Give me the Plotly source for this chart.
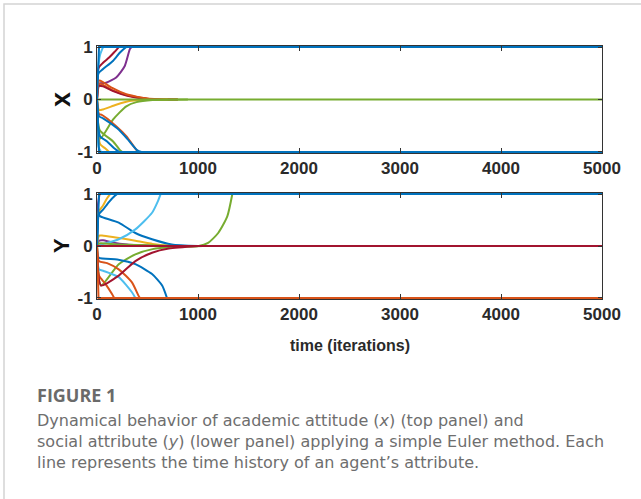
import plotly.graph_objects as go

W, H = 641, 499

# MATLAB default palette
BLUE = "#0072BD"; ORANGE = "#D95319"; YELLOW = "#EDB120"; PURPLE = "#7E2F8E"
GREEN = "#77AC30"; LBLUE = "#4DBEEE"; RED = "#A2142F"

T_END = 5000

# ---------------- top panel (x) : time points and values
x_lblue_up_t = [0, 10, 30, 60];                 x_lblue_up_v = [0, 0.55, 0.85, 1]
x_red_up_t = [0, 15, 60, 120, 170, 215];        x_red_up_v = [0, 0.6, 0.7, 0.8, 0.9, 1]
x_blue_up_t = [0, 15, 60, 160, 230, 290];       x_blue_up_v = [0, 0.5, 0.58, 0.74, 0.9, 1]
x_purple_up_t = [0, 20, 90, 190, 275, 325, 340]; x_purple_up_v = [0, 0.3, 0.32, 0.42, 0.64, 0.96, 1]
x_red_dec_t = [0, 20, 60, 150, 290, 520, 800];  x_red_dec_v = [0, 0.36, 0.33, 0.22, 0.1, 0.01, 0]
x_orange_dec_t = [0, 20, 60, 150, 300, 500, 800]; x_orange_dec_v = [0, 0.3, 0.28, 0.18, 0.08, 0.02, 0]
x_brown_dec_t = [0, 20, 60, 160, 300, 500, 800]; x_brown_dec_v = [0, 0.26, 0.25, 0.16, 0.07, 0.01, 0]
x_yellow_dec_t = [0, 20, 60, 190, 320, 500, 700]; x_yellow_dec_v = [0, -0.2, -0.19, -0.1, -0.03, -0.01, 0]
x_green_dec_t = [0, 30, 160, 290, 390, 550, 900]; x_green_dec_v = [0, -0.75, -0.38, -0.13, -0.05, -0.01, 0]
x_orange_dn_t = [0, 20, 43, 190, 290, 390, 410];  x_orange_dn_v = [0, -0.28, -0.29, -0.51, -0.7, -0.96, -1]
x_blue_dn_t = [0, 20, 60, 200, 300, 400, 440];    x_blue_dn_v = [0, -0.32, -0.36, -0.55, -0.75, -0.97, -1]
x_blue_dn2_t = [0, 30, 100, 170, 220];            x_blue_dn2_v = [0, -0.7, -0.8, -0.93, -1]
x_green_dn_t = [0, 26, 160, 225, 250];            x_green_dn_v = [0, -0.58, -0.8, -0.96, -1]
x_yellow_dn_t = [0, 30, 80, 120];                 x_yellow_dn_v = [0, -0.85, -0.93, -1]
x_lblue_dn_t = [0, 15, 40];                       x_lblue_dn_v = [0, -0.9, -1]
# settled agents drawn on top (full width); they hide the settled tails of the others
x_green_zero_t = [0, 5000];                       x_green_zero_v = [0, 0]
x_blue_one_t = [0, 20, 5000];                     x_blue_one_v = [0, 1, 1]
x_blue_neg_t = [0, 20, 5000];                     x_blue_neg_v = [0, -1, -1]

# ---------------- bottom panel (y)
y_purple_up_t = [0, 10, 25];                      y_purple_up_v = [0, 0.8, 1]
y_purple_dec_t = [0, 20, 60, 150, 300, 600];      y_purple_dec_v = [0, 0.1, 0.11, 0.07, 0.03, 0]
y_yellow_up_t = [0, 15, 60, 100, 130];            y_yellow_up_v = [0, 0.65, 0.78, 0.92, 1]
y_blue_up_t = [0, 15, 60, 120, 180, 200];         y_blue_up_v = [0, 0.6, 0.7, 0.85, 0.97, 1]
y_blue_dec_t = [0, 20, 33, 215, 380, 545, 740, 1000]; y_blue_dec_v = [0, 0.6, 0.57, 0.45, 0.25, 0.13, 0.03, 0]
y_lblue_up_t = [0, 30, 215, 380, 545, 600, 630];  y_lblue_up_v = [0, 0.02, 0.13, 0.32, 0.64, 0.85, 1]
y_yellow_dec_t = [0, 20, 50, 380, 550, 710, 900]; y_yellow_dec_v = [0, 0.2, 0.2, 0.1, 0.04, 0.01, 0]
y_green_up_t = [0, 20, 200, 600, 1006, 1100, 1200, 1290, 1340]; y_green_up_v = [0, 0.05, 0.03, 0.01, 0.0, 0.06, 0.25, 0.57, 1]
y_green_dec_t = [0, 40, 215, 380, 550, 750, 1050]; y_green_dec_v = [0, -0.76, -0.35, -0.16, -0.06, -0.02, 0]
y_red_dec_t = [0, 40, 215, 380, 545, 710, 1000];  y_red_dec_v = [0, -0.76, -0.57, -0.29, -0.13, -0.05, 0]
y_blue_dn_t = [0, 15, 200, 380, 545, 645, 693];   y_blue_dn_v = [0, -0.22, -0.26, -0.35, -0.54, -0.76, -1]
y_orange_dn_t = [0, 20, 100, 215, 346, 412, 425]; y_orange_dn_v = [0, -0.29, -0.33, -0.45, -0.7, -0.96, -1]
y_lblue_dn_t = [0, 20, 66, 215, 346, 380];        y_lblue_dn_v = [0, -0.45, -0.48, -0.6, -0.89, -1]
y_orange_dn2_t = [0, 20, 80, 150, 170];           y_orange_dn2_v = [0, -0.57, -0.72, -0.93, -1]
# settled agents drawn on top (full width)
y_blue_one_t = [0, 20, 5000];                     y_blue_one_v = [0, 1, 1]
y_red_zero_t = [0, 5000];                         y_red_zero_v = [0, 0]
y_orange_neg_t = [0, 15, 5000];                   y_orange_neg_v = [0, -1, -1]

top_series = [
    (x_lblue_up_t, x_lblue_up_v, LBLUE), (x_red_up_t, x_red_up_v, RED),
    (x_purple_up_t, x_purple_up_v, PURPLE), (x_blue_up_t, x_blue_up_v, BLUE),
    (x_orange_dec_t, x_orange_dec_v, ORANGE), (x_brown_dec_t, x_brown_dec_v, RED),
    (x_red_dec_t, x_red_dec_v, ORANGE), (x_yellow_dec_t, x_yellow_dec_v, YELLOW),
    (x_green_dec_t, x_green_dec_v, GREEN), (x_lblue_dn_t, x_lblue_dn_v, LBLUE),
    (x_yellow_dn_t, x_yellow_dn_v, YELLOW), (x_green_dn_t, x_green_dn_v, GREEN),
    (x_orange_dn_t, x_orange_dn_v, ORANGE), (x_blue_dn2_t, x_blue_dn2_v, BLUE),
    (x_blue_dn_t, x_blue_dn_v, BLUE),
]
top_settled = [
    (x_green_zero_t, x_green_zero_v, GREEN),
    (x_blue_one_t, x_blue_one_v, BLUE), (x_blue_neg_t, x_blue_neg_v, BLUE),
]
bottom_series = [
    (y_purple_up_t, y_purple_up_v, PURPLE), (y_yellow_up_t, y_yellow_up_v, YELLOW),
    (y_purple_dec_t, y_purple_dec_v, PURPLE), (y_yellow_dec_t, y_yellow_dec_v, YELLOW),
    (y_blue_dec_t, y_blue_dec_v, BLUE), (y_lblue_up_t, y_lblue_up_v, LBLUE),
    (y_green_dec_t, y_green_dec_v, GREEN), (y_green_up_t, y_green_up_v, GREEN),
    (y_blue_dn_t, y_blue_dn_v, BLUE), (y_lblue_dn_t, y_lblue_dn_v, LBLUE),
    (y_orange_dn_t, y_orange_dn_v, ORANGE), (y_orange_dn2_t, y_orange_dn2_v, ORANGE),
    (y_red_dec_t, y_red_dec_v, RED), (y_blue_up_t, y_blue_up_v, BLUE),
]
bottom_settled = [
    (y_blue_one_t, y_blue_one_v, BLUE), (y_red_zero_t, y_red_zero_v, RED),
    (y_orange_neg_t, y_orange_neg_v, ORANGE),
]

fig = go.Figure()

def add(series, settled, xa, ya):
    # transient parts (smooth); their settled tails lie under the full-width settled agents
    for t, v, c in series:
        fig.add_trace(go.Scatter(x=t, y=v, mode="lines", xaxis=xa, yaxis=ya,
                                 line=dict(color=c, width=2, shape="spline", smoothing=0.6),
                                 showlegend=False, hoverinfo="skip"))
    for t, v, c in settled:
        fig.add_trace(go.Scatter(x=t, y=v, mode="lines", xaxis=xa, yaxis=ya,
                                 line=dict(color=c, width=2),
                                 showlegend=False, hoverinfo="skip"))

add(top_series, top_settled, "x", "y")
add(bottom_series, bottom_settled, "x2", "y2")

px2x = lambda p: p / W
px2y = lambda p: 1 - p / H

TICKFONT = dict(family="Liberation Sans", size=17, color="#2a2a2a", weight="bold")
axis_common = dict(range=[0, T_END], tickvals=[0, 1000, 2000, 3000, 4000, 5000],
                   ticks="inside", ticklen=5, tickwidth=1, tickcolor="#333",
                   showline=True, linecolor="#333", linewidth=1, mirror="ticks",
                   showgrid=False, zeroline=False, tickfont=TICKFONT, automargin=False)
yaxis_common = dict(range=[-1.02, 1.02], tickvals=[-1, 0, 1], ticktext=["-1", "0", "1"],
                    ticks="inside", ticklen=4, tickwidth=1, tickcolor="#333",
                    showline=True, linecolor="#333", linewidth=1, mirror="ticks",
                    showgrid=False, zeroline=False, tickfont=TICKFONT, automargin=False)

xdom = [px2x(97), px2x(602)]
fig.update_layout(
    template="none",
    width=W, height=H, autosize=False,
    margin=dict(l=0, r=0, t=0, b=0, pad=0),
    paper_bgcolor="white", plot_bgcolor="white",
    xaxis=dict(domain=xdom, anchor="y", **axis_common),
    yaxis=dict(domain=[px2y(153), px2y(46)], anchor="x", **yaxis_common),
    xaxis2=dict(domain=xdom, anchor="y2", **axis_common),
    yaxis2=dict(domain=[px2y(299), px2y(193)], anchor="x2", **yaxis_common),
)

ann = []
ann.append(dict(text="<b>x</b>", x=px2x(61), y=px2y(100), xref="paper", yref="paper",
                xanchor="center", yanchor="middle",
                textangle=-90, showarrow=False, font=dict(family="Liberation Sans", size=27, color="#111")))
ann.append(dict(text="<b>Y</b>", x=px2x(61), y=px2y(246), xref="paper", yref="paper",
                xanchor="center", yanchor="middle",
                textangle=-90, showarrow=False, font=dict(family="Liberation Sans", size=22, color="#111")))
ann.append(dict(text="<b>time (iterations)</b>", x=px2x(350), y=px2y(345), xref="paper", yref="paper",
                xanchor="center", yanchor="middle",
                showarrow=False, font=dict(family="Liberation Sans", size=16, color="#2a2a2a")))

ann.append(dict(text="<b>FIGURE 1</b>", x=px2x(35), y=px2y(395), xref="paper", yref="paper",
                xanchor="left", yanchor="middle", showarrow=False,
                font=dict(family="Open Sans", size=18, color="#6a6a6a")))
cap_lines = [
    "Dynamical behavior of academic attitude (<i>x</i>) (top panel) and",
    "social attribute (<i>y</i>) (lower panel) applying a simple Euler method. Each",
    "line represents the time history of an agent’s attribute.",
]
ann.append(dict(text="<br>".join(cap_lines), x=px2x(35), y=px2y(441), xref="paper", yref="paper",
                xanchor="left", yanchor="middle", align="left", showarrow=False,
                font=dict(family="DejaVu Sans", size=16, color="#6e6e6e")))
fig.update_layout(annotations=ann)

# outer light frame (card border)
fig.add_shape(type="rect", xref="paper", yref="paper",
              x0=px2x(4), y0=px2y(4), x1=1.2, y1=-0.2,
              line=dict(color="#d4d4d4", width=1.5), fillcolor="rgba(0,0,0,0)", layer="below")

fig.write_html("out.html")
